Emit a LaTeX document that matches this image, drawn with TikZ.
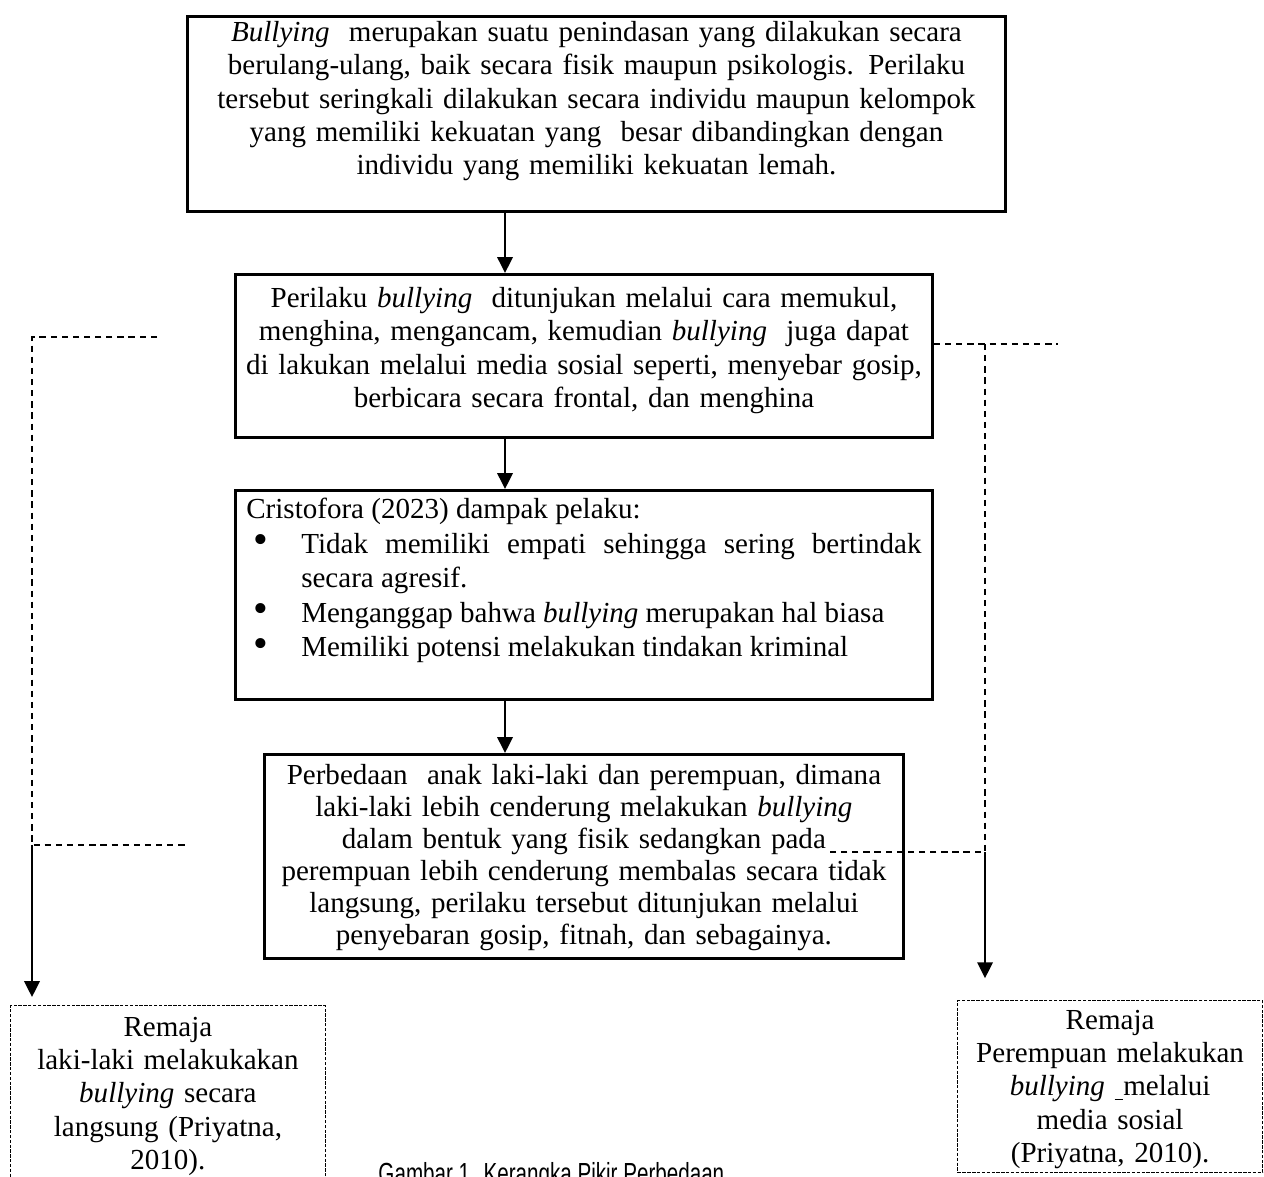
\documentclass[tikz,border=0pt]{standalone}
\usepackage{fontspec}
\usepackage{graphicx}
\setmainfont{Liberation Serif}
\setsansfont{Liberation Sans}
\usetikzlibrary{arrows.meta}
\newcommand\bulletitem{\leavevmode\llap{\raisebox{-0.02em}{\scalebox{1.45}{\textbullet}}\hspace{13.6pt}}}
\begin{document}
\begin{tikzpicture}[x=0.4132pt, y=-0.4132pt,
  box/.style = {draw, line width=1.2pt, anchor=north west, align=center, inner xsep=4pt, inner ysep=0pt, font=\fontsize{12}{13.8}\selectfont},
  note/.style = {draw, line width=0.5pt, dash pattern=on 1.4pt off 0.6pt, anchor=north west, align=center, inner xsep=3pt, inner ysep=0pt, font=\fontsize{12}{13.8}\selectfont},
  flow/.style = {line width=0.8pt, -{Triangle[width=6.4pt,length=6.6pt]}},
  link/.style = {line width=0.6pt, dash pattern=on 2.6pt off 2pt}]
  \useasboundingbox (0,0) rectangle (1264,1176);
  \node[box, text width=330pt, text height=10.3pt, text depth=70.2pt] (1) at (186,15)
    {\textit{Bullying}~ merupakan suatu penindasan yang dilakukan secara\\
     berulang-ulang, baik secara fisik maupun psikologis. Perilaku\\
     tersebut seringkali dilakukan secara individu maupun kelompok\\
     yang memiliki kekuatan yang~ besar dibandingkan dengan\\
     individu yang memiliki kekuatan lemah.};
  \node[box, text width=280pt, text height=13.6pt, text depth=53.7pt] (2) at (234,273)
    {Perilaku \textit{bullying}~ ditunjukan melalui cara memukul,\\
     menghina, mengancam, kemudian \textit{bullying}~ juga dapat\\
     di lakukan melalui media sosial seperti, menyebar gosip,\\
     berbicara secara frontal, dan menghina};
  \node[box, align=justify, inner xsep=3.7pt, text width=279pt, minimum width=288pt, text height=11.6pt, text depth=74.8pt, font=\fontsize{12}{14.25}\selectfont] (3) at (234,489)
    {Cristofora (2023) dampak pelaku:\par
     \leftskip=22.7pt
     \bulletitem Tidak memiliki empati sehingga sering bertindak\linebreak secara agresif.\par
     \bulletitem Menganggap bahwa \textit{bullying} merupakan hal biasa\par
     \bulletitem Memiliki potensi melakukan tindakan kriminal\par};
  \node[box, text width=256pt, text height=12.4pt, text depth=71.9pt, font=\fontsize{12}{13.25}\selectfont] (4) at (263,753)
    {Perbedaan~ anak laki-laki dan perempuan, dimana\\
     laki-laki lebih cenderung melakukan \textit{bullying}\\
     dalam bentuk yang fisik sedangkan pada\\
     perempuan lebih cenderung membalas secara tidak\\
     langsung, perilaku tersebut ditunjukan melalui\\
     penyebaran gosip, fitnah, dan sebagainya.};
  \node[note, text width=124pt, text height=12.6pt, text depth=68pt] (5) at (10,1005)
    {Remaja\\ laki-laki melakukakan\\ \textit{bullying} secara\\ langsung (Priyatna,\\ 2010).};
  \node[note, text width=120pt, text height=11.8pt, text depth=59.3pt] (6) at (957,1000)
    {Remaja\\ Perempuan melakukan\\ \textit{bullying} \underline{\hspace{0.3em}}melalui\\ media sosial\\ (Priyatna, 2010).};
  \node[anchor=base west, inner sep=0pt, font=\sffamily\fontsize{12}{13.8}\selectfont] (cap) at (378,1183)
    {\scalebox{0.71}[1]{Gambar 1. Kerangka Pikir Perbedaan}};
  % arrows down the middle
  \coordinate (ax) at (505,0);
  \draw[flow] (1.south -| ax) -- (2.north -| ax);
  \draw[flow] (2.south -| ax) -- (3.north -| ax);
  \draw[flow] (3.south -| ax) -- (4.north -| ax);
  % left branch
  \coordinate (l1) at (157,337);
  \coordinate (l2) at (32,337);
  \coordinate (l3) at (32,845);
  \coordinate (l4) at (185,845);
  \draw[link] (l1) -- (l2) -- (l3) -- (l4);
  \draw[flow, shorten >=3.3pt] (l3) -- (l3 |- 5.north);
  % right branch
  \coordinate (r1) at (985,344);
  \coordinate (r2) at (1058,344);
  \coordinate (r3) at (985,852);
  \coordinate (r4) at (829,852);
  \draw[link] (2.east |- r1) -- (r2);
  \draw[link] (r1) -- (r3) -- (r4);
  \draw[flow, shorten >=9pt] (r3) -- (r3 |- 6.north);
\end{tikzpicture}
\end{document}
